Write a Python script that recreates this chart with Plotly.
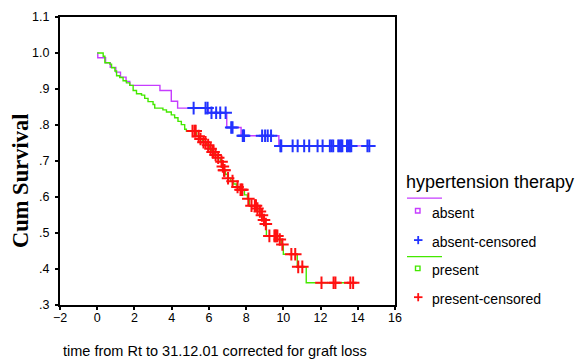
import numpy as np
import plotly.graph_objects as go

# ---------------- data ----------------
absent_event_times = [0.03, 0.45, 0.70, 1.00, 1.25, 1.55, 1.75, 3.37, 3.98, 4.32,
                      5.98, 6.96, 7.73, 9.76]
absent_event_surv = [0.987, 0.973, 0.960, 0.947, 0.933, 0.921, 0.910, 0.896, 0.866, 0.847,
                     0.834, 0.793, 0.770, 0.742]
absent_censored = [5.18, 5.82, 5.93, 6.14, 6.39, 6.61, 6.90, 7.20, 7.27, 7.82, 7.86, 7.89,
                   8.86, 9.02, 9.16, 9.34, 9.84, 9.89, 10.50, 10.77, 11.12, 11.39, 11.84,
                   12.11, 12.50, 12.59, 12.68, 12.95, 13.02, 13.10, 13.17, 13.42, 13.50,
                   13.58, 13.65, 14.52, 14.62]

present_event_times = [0.32, 0.41, 0.68, 0.77, 0.95, 1.04, 1.21, 1.39, 1.57, 1.75, 1.93,
                       2.11, 2.38, 2.55, 2.73, 3.00, 3.09, 3.53, 3.72, 3.98, 4.16, 4.34,
                       4.52, 4.70, 4.79, 5.34, 5.50, 5.66, 5.87, 6.04, 6.14, 6.30, 6.46,
                       6.62, 6.73, 6.79, 6.89, 7.00, 7.16, 7.32, 7.48, 7.64, 7.91, 8.07,
                       8.18, 8.55, 8.71, 8.82, 8.93, 9.04, 9.09, 9.79, 9.89, 10.00, 10.75,
                       11.23]
present_event_surv = [0.991, 0.973, 0.969, 0.959, 0.950, 0.937, 0.932, 0.923, 0.917, 0.910,
                      0.896, 0.887, 0.883, 0.874, 0.865, 0.857, 0.847, 0.842, 0.836, 0.828,
                      0.820, 0.810, 0.801, 0.788, 0.783, 0.769, 0.761, 0.752, 0.744, 0.734,
                      0.725, 0.717, 0.709, 0.698, 0.685, 0.674, 0.663, 0.652, 0.644, 0.636,
                      0.628, 0.620, 0.606, 0.595, 0.576, 0.568, 0.560, 0.549, 0.536, 0.525,
                      0.492, 0.482, 0.468, 0.441, 0.406, 0.362]
present_censored = [5.12, 5.23, 5.29, 5.45, 5.55, 5.71, 5.82, 5.96, 6.09, 6.20, 6.25, 6.36,
                    6.50, 6.68, 6.75, 6.81, 6.84, 7.03, 7.27, 7.54, 7.70, 7.75, 7.80, 8.12,
                    8.29, 8.47, 8.53, 8.61, 8.74, 8.85, 8.96, 9.06, 9.25, 9.52, 9.57, 9.62,
                    9.68, 9.81, 9.95, 10.43, 10.64, 10.80, 11.02, 12.05, 12.70, 12.80,
                    13.60, 13.75]

x_tick_vals = [-2, 0, 2, 4, 6, 8, 10, 12, 14, 16]
y_tick_vals = [0.3, 0.4, 0.5, 0.6, 0.7, 0.8, 0.9, 1.0, 1.1]
y_tick_text = [".3", ".4", ".5", ".6", ".7", ".8", ".9", "1.0", "1.1"]

legend_title = "hypertension therapy"

# ---------------- styling ----------------
C_ABS = "#c63cff"
C_ABS_C = "#2233ff"
C_PRE = "#44e800"
C_PRE_C = "#ff1010"
SANS = "Liberation Sans, Arial, sans-serif"
SERIF = "Liberation Serif, Times New Roman, serif"

W, H = 580, 364
ML, MR, MT, MB = 60, 185, 10, 59
PW, PH = W - ML - MR, H - MT - MB


def px_x(p):
    return (p - ML) / PW


def px_y(p):
    return (H - MB - p) / PH


def curve(times, surv, end):
    return [0.0] + list(times) + [end], [1.0] + list(surv) + [surv[-1]]


def level_at(times, surv, pts):
    t = np.asarray(times)
    s = np.asarray(surv)
    idx = np.searchsorted(t, np.asarray(pts), side="right")
    return np.where(idx > 0, s[np.maximum(idx - 1, 0)], 1.0)


fig = go.Figure()

ax, ay = curve(absent_event_times, absent_event_surv, absent_censored[-1])
px_, py_ = curve(present_event_times, present_event_surv, present_censored[-1])

fig.add_trace(go.Scatter(x=ax, y=ay, mode="lines", line_shape="hv",
                         line=dict(color=C_ABS, width=1.4), name="absent",
                         showlegend=False, hoverinfo="skip"))
fig.add_trace(go.Scatter(x=px_, y=py_, mode="lines", line_shape="hv",
                         line=dict(color=C_PRE, width=1.4), name="present",
                         showlegend=False, hoverinfo="skip"))
fig.add_trace(go.Scatter(x=absent_censored,
                         y=level_at(absent_event_times, absent_event_surv, absent_censored),
                         mode="markers", name="absent-censored", showlegend=False,
                         marker=dict(symbol="cross-thin", size=9,
                                     line=dict(color=C_ABS_C, width=2))))
fig.add_trace(go.Scatter(x=present_censored,
                         y=level_at(present_event_times, present_event_surv, present_censored),
                         mode="markers", name="present-censored", showlegend=False,
                         marker=dict(symbol="cross-thin", size=9,
                                     line=dict(color=C_PRE_C, width=2))))

# ---------------- manual SPSS-style legend ----------------
shapes = []
annotations = []
annotations.append(dict(text=legend_title, x=px_x(404), y=px_y(179), xref="paper", yref="paper",
                        xanchor="left", yanchor="middle", showarrow=False,
                        font=dict(family=SANS, size=18, color="black")))
leg_rows = [
    ("line", C_ABS, 195.5, None),
    ("square", C_ABS, 208.5, "absent"),
    ("cross", C_ABS_C, 238.5, "absent-censored"),
    ("line", C_PRE, 255.5, None),
    ("square", C_PRE, 267.5, "present"),
    ("cross", C_PRE_C, 297, "present-censored"),
]
for kind, col, yy, label in leg_rows:
    if kind == "line":
        shapes.append(dict(type="line", xref="paper", yref="paper",
                           x0=px_x(407), x1=px_x(442), y0=px_y(yy), y1=px_y(yy),
                           line=dict(color=col, width=1.4)))
    elif kind == "square":
        shapes.append(dict(type="rect", xref="paper", yref="paper",
                           x0=px_x(415.5), x1=px_x(420), y0=px_y(yy - 2.3), y1=px_y(yy + 2.3),
                           line=dict(color=col, width=1.4)))
    else:
        shapes.append(dict(type="line", xref="paper", yref="paper",
                           x0=px_x(414), x1=px_x(422.5), y0=px_y(yy), y1=px_y(yy),
                           line=dict(color=col, width=1.8)))
        shapes.append(dict(type="line", xref="paper", yref="paper",
                           x0=px_x(418.2), x1=px_x(418.2), y0=px_y(yy - 4.2), y1=px_y(yy + 4.2),
                           line=dict(color=col, width=1.8)))
    if label:
        annotations.append(dict(text=label, x=px_x(430), y=px_y(yy + 2), xref="paper",
                                yref="paper", xanchor="left", yanchor="middle",
                                showarrow=False,
                                font=dict(family=SANS, size=14, color="black")))

# axis titles
annotations.append(dict(text="Cum Survival", x=px_x(20), y=px_y(178), xref="paper",
                        yref="paper", xanchor="center", yanchor="middle", textangle=-90,
                        showarrow=False,
                        font=dict(family=SERIF, size=22.5, color="black", weight="bold")))
annotations.append(dict(text="time from Rt to 31.12.01 corrected for graft loss",
                        x=px_x(61), y=px_y(352), xref="paper", yref="paper",
                        xanchor="left", yanchor="middle", showarrow=False,
                        font=dict(family=SANS, size=14.5, color="black")))

fig.update_layout(
    width=W, height=H,
    margin=dict(l=ML, r=MR, t=MT, b=MB, pad=0),
    paper_bgcolor="white", plot_bgcolor="white",
    showlegend=False,
    shapes=shapes, annotations=annotations,
    font=dict(family=SANS, color="black"),
)
fig.update_xaxes(range=[-2, 16], tickvals=x_tick_vals, ticks="outside", ticklen=3,
                 tickwidth=2, tickcolor="black", showline=True, linecolor="black",
                 linewidth=2, mirror=True, showgrid=False, zeroline=False,
                 ticklabelstandoff=-3,
                 tickfont=dict(family=SANS, size=12.5, color="black"))
fig.update_yaxes(range=[0.3, 1.1], tickvals=y_tick_vals, ticktext=y_tick_text,
                 ticks="outside", ticklen=3, tickwidth=2, tickcolor="black",
                 showline=True, linecolor="black", linewidth=2, mirror=True,
                 showgrid=False, zeroline=False, ticklabelstandoff=3,
                 tickfont=dict(family=SANS, size=12.5, color="black"))

fig.write_html("out.html")
